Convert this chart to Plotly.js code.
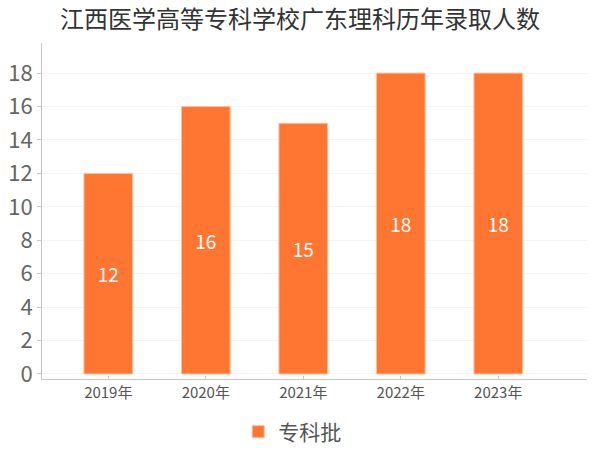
<!DOCTYPE html>
<html>
<head>
<meta charset="utf-8">
<script src="https://cdn.plot.ly/plotly-3.0.1.min.js"></script>
<style>html,body{margin:0;padding:0;background:#fff;}#chart{width:600px;height:450px;}</style>
</head>
<body>
<div id="chart"></div>
<script>
var titleText = '江西医学高等专科学校广东理科历年录取人数';
var years = ['2019年', '2020年', '2021年', '2022年', '2023年'];
var seriesName = '专科批';
var values = [12, 16, 15, 18, 18];
var yTicks = [0, 2, 4, 6, 8, 10, 12, 14, 16, 18];

var font = '"Noto Sans CJK SC", "Noto Sans", sans-serif';

var trace = {
  type: 'bar',
  x: years,
  y: values,
  name: seriesName,
  width: 0.5,
  marker: { color: '#fe7631', line: { color: '#ffc3a0', width: 1 } },
  text: values.map(String),
  textposition: 'inside',
  insidetextanchor: 'middle',
  textangle: 0,
  textfont: { color: '#ffffff', size: 19, family: font },
  hoverinfo: 'none',
  cliponaxis: false
};

var layout = {
  width: 600,
  height: 450,
  paper_bgcolor: '#ffffff',
  plot_bgcolor: '#ffffff',
  margin: { l: 42, r: 13, t: 43, b: 71 },
  title: {
    text: titleText,
    font: { family: font, size: 24, color: '#333333' },
    x: 0.5, xanchor: 'center', xref: 'container', y: 0.957, yanchor: 'middle', yref: 'container'
  },
  showlegend: true,
  legend: {
    orientation: 'h', x: 0.487, xanchor: 'center', xref: 'container',
    y: 0.04, yanchor: 'middle', yref: 'container',
    font: { family: font, size: 21, color: '#555555' },
    itemwidth: 30
  },
  xaxis: {
    type: 'category',
    range: [-0.68, 4.91],
    showline: true, linecolor: '#c8c8c8', linewidth: 1,
    ticks: 'inside', ticklen: 3, tickcolor: '#c8c8c8',
    tickfont: { family: font, size: 15, color: '#555555' },
    showgrid: false, zeroline: false, automargin: false
  },
  yaxis: {
    range: [-0.3, 19.8],
    tickvals: yTicks,
    ticktext: yTicks.map(String),
    showline: true, linecolor: '#c8c8c8', linewidth: 1,
    ticks: 'outside', ticklen: 4, tickcolor: '#c8c8c8',
    tickfont: { family: font, size: 22, color: '#666666' },
    showgrid: true, gridcolor: '#f4f4f4', gridwidth: 1,
    zeroline: false, automargin: false
  },
  bargap: 0.5
};

Plotly.newPlot('chart', [trace], layout, { displayModeBar: false, staticPlot: true });
</script>
</body>
</html>
